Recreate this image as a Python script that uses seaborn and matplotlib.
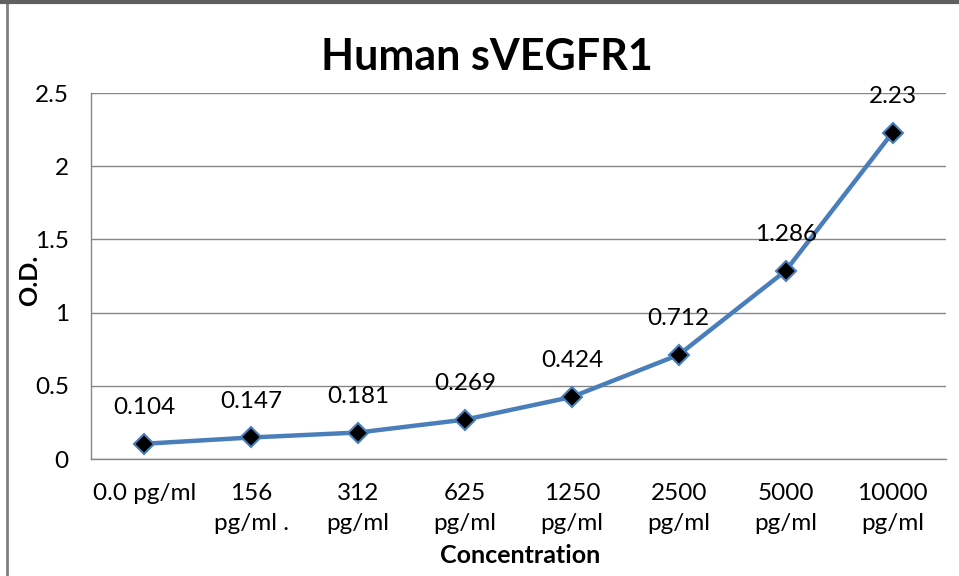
import matplotlib
matplotlib.use("Agg")
import matplotlib.pyplot as plt
from matplotlib.lines import Line2D
import seaborn as sns
import pandas as pd

categories = ["0.0 pg/ml", "156\npg/ml .", "312\npg/ml", "625\npg/ml",
              "1250\npg/ml", "2500\npg/ml", "5000\npg/ml", "10000\npg/ml"]
od_values = [0.104, 0.147, 0.181, 0.269, 0.424, 0.712, 1.286, 2.23]
value_labels = ["0.104", "0.147", "0.181", "0.269", "0.424", "0.712", "1.286", "2.23"]
y_ticks = [0, 0.5, 1, 1.5, 2, 2.5]
y_tick_labels = ["0", "0.5", "1", "1.5", "2", "2.5"]

sns.set_style("white")
plt.rcParams["font.family"] = ["Lato", "DejaVu Sans"]
plt.rcParams["text.color"] = "black"

df = pd.DataFrame({"Concentration": categories, "OD": od_values})

fig = plt.figure(figsize=(9.59, 5.76), dpi=100)
ax = fig.add_axes([91/959, 117/576, (946-91)/959, (459-93)/576])

blue = "#4A7EBB"
grid_c = "#868686"

sns.lineplot(data=df, x="Concentration", y="OD", sort=False, ax=ax,
             color=blue, linewidth=3.2, marker="D", markersize=10,
             markerfacecolor="black", markeredgecolor=blue, markeredgewidth=1.5,
             zorder=3)

ax.set_xlim(-0.5, len(categories) - 0.5)
ax.set_ylim(0, 2.5)
ax.set_yticks(y_ticks)
ax.set_yticklabels(y_tick_labels)
ax.yaxis.grid(True, color=grid_c, linewidth=1)
ax.xaxis.grid(False)

ax.set_xticks(range(len(categories)))
ax.set_xticklabels(categories, linespacing=1.55)
ax.set_xticks([i - 0.5 for i in range(len(categories) + 1)], minor=True)
ax.tick_params(axis="x", which="major", length=0, pad=17, labelsize=17.5, colors="black")
ax.tick_params(axis="x", which="minor", length=8, width=1, color=grid_c, direction="out")
ax.tick_params(axis="y", which="major", length=6, width=1, color=grid_c, direction="out",
               pad=10, labelsize=17.5, labelcolor="black")

for s in ["top", "right"]:
    ax.spines[s].set_visible(False)
for s in ["left", "bottom"]:
    ax.spines[s].set_color(grid_c)
    ax.spines[s].set_linewidth(1)

for i, (v, lab) in enumerate(zip(od_values, value_labels)):
    ax.annotate(lab, (i, v), xytext=(0, 26), textcoords="offset points",
                ha="center", va="center", fontsize=17.5, color="black")

ax.set_xlabel("Concentration", fontsize=18, fontweight="bold", color="black")
ax.set_ylabel("O.D.", fontsize=18, fontweight="bold", color="black")
ax.xaxis.set_label_coords((520 - 91) / 855, (459 - 544) / 366)
ax.yaxis.set_label_coords((41 - 91) / 855, (459 - 280) / 366)
fig.text(487/959, 1 - 57/576, "Human sVEGFR1", ha="center", va="center",
         fontsize=31, fontweight="bold", color="black")

# screenshot border
fig.add_artist(Line2D([7/959, 7/959], [0, 1], transform=fig.transFigure,
                      color="#808080", linewidth=2))
fig.add_artist(Line2D([0, 1], [1 - 2/576, 1 - 2/576], transform=fig.transFigure,
                      color="#606060", linewidth=3))

fig.savefig("out.png", dpi=100)
